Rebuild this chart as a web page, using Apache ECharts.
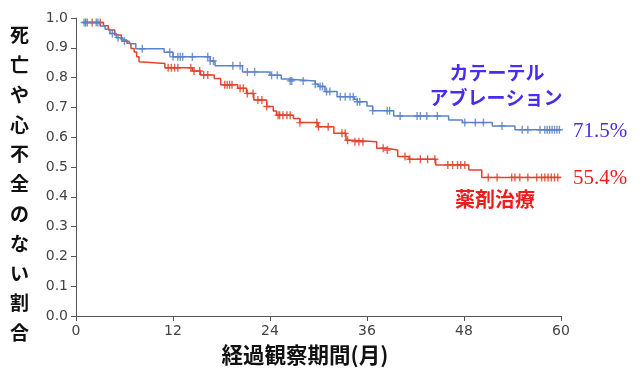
<!DOCTYPE html>
<html>
<head>
<meta charset="utf-8">
<script src="https://cdn.jsdelivr.net/npm/echarts@6/dist/echarts.min.js"></script>
<style>
html,body{margin:0;padding:0;background:#fff;}
#chart{width:640px;height:381px;}
</style>
</head>
<body>
<div id="chart"></div>
<script>
// Kaplan-Meier step data: [month, survival]
var ablationSteps = [[0.9,0.985],[3.0,0.973],[3.6,0.962],[4.2,0.948],[5.0,0.934],[5.8,0.922],[6.6,0.914],[7.4,0.897],[10.9,0.885],[12.0,0.870],[16.6,0.856],[17.2,0.840],[20.6,0.819],[24.0,0.808],[25.4,0.795],[26.1,0.789],[29.6,0.778],[30.0,0.770],[30.8,0.753],[32.3,0.736],[34.4,0.727],[34.8,0.719],[36.0,0.705],[36.7,0.689],[39.3,0.671],[46.1,0.658],[47.8,0.649],[51.5,0.638],[54.3,0.625],[60.0,0.625]];
var drugSteps = [[0.9,0.985],[3.4,0.974],[4.0,0.960],[4.8,0.943],[5.6,0.926],[6.3,0.915],[6.8,0.898],[7.2,0.886],[7.5,0.870],[7.8,0.853],[8.0,0.847],[11.0,0.833],[14.4,0.822],[15.4,0.809],[17.1,0.797],[17.9,0.776],[20.0,0.764],[21.1,0.747],[22.0,0.725],[23.6,0.703],[24.4,0.688],[24.8,0.674],[26.9,0.663],[27.7,0.649],[29.9,0.635],[31.9,0.613],[33.4,0.590],[34.2,0.585],[37.2,0.563],[38.4,0.557],[39.8,0.535],[41.2,0.526],[44.5,0.507],[48.6,0.490],[50.2,0.465],[60.0,0.465]];
// censoring times (months)
var ablationCensor = [1.0,1.4,2.5,2.7,4.5,5.2,6.0,8.2,11.6,12.0,12.6,12.9,13.2,14.4,16.3,16.6,17.0,19.4,20.3,21.2,22.1,24.2,24.9,26.5,26.7,28.1,29.6,30.2,30.5,31.0,31.4,32.7,33.3,33.9,34.3,34.8,35.1,36.7,38.5,38.8,40.1,42.2,42.6,43.4,44.7,48.1,49.4,50.4,52.7,55.2,55.9,57.4,58.0,58.3,58.6,58.9,59.2,59.5,59.8];
var drugCensor = [1.2,2.0,3.0,11.4,11.8,12.2,12.6,14.2,14.6,15.3,15.8,16.3,18.4,18.7,19.0,19.3,20.3,20.7,21.2,21.9,22.5,23.0,23.6,25.0,25.2,25.6,26.1,26.5,27.7,29.8,30.0,31.2,32.9,33.3,33.6,34.5,35.0,35.5,38.0,38.5,40.7,41.3,42.6,43.5,44.4,46.0,46.6,47.2,47.6,48.1,51.0,52.1,53.9,54.3,54.9,55.9,57.0,57.6,58.0,58.4,58.8,59.2,59.6];
var xTicks = [0,12,24,36,48,60];
var yTitle = '死亡や心不全のない割合';
var xTitle = '経過観察期間(月)';
var ablationName = ['カテーテル','アブレーション'];
var drugName = '薬剤治療';
var ablationFinal = '71.5%';
var drugFinal = '55.4%';

function survAt(steps, t){
  var v = steps[0][1];
  for (var i=0;i<steps.length;i++){ if (steps[i][0] <= t) v = steps[i][1]; }
  return v;
}
function censorPts(steps, times){ return times.map(function(t){ return [t, survAt(steps,t)]; }); }

var blue = '#5a83c9', red = '#e2432c';
var labelBlue = '#4a2cf0', labelRed = '#ef1c1c';
var chart = echarts.init(document.getElementById('chart'));
var censorSym = 'path://M-0.6,-3.5L0.6,-3.5L0.6,-0.6L3,-0.6L3,0.6L0.6,0.6L0.6,3.5L-0.6,3.5L-0.6,0.6L-3,0.6L-3,-0.6L-0.6,-0.6Z';
chart.setOption({
  animation:false,
  grid:{left:76,right:79,top:18,bottom:65,containLabel:false},
  xAxis:{type:'value',min:0,max:60,interval:12,
    axisLine:{show:true,lineStyle:{color:'#555',width:1}},
    axisTick:{show:true,length:5,lineStyle:{color:'#555'}},
    axisLabel:{color:'#444',fontSize:14,fontFamily:'DejaVu Sans',margin:8},
    splitLine:{show:false}},
  yAxis:{type:'value',min:0,max:1,interval:0.1,
    axisLine:{show:true,lineStyle:{color:'#555',width:1}},
    axisTick:{show:true,length:5,lineStyle:{color:'#555'}},
    axisLabel:{color:'#444',fontSize:14,fontFamily:'DejaVu Sans',margin:8,formatter:function(v){return v.toFixed(1);}},
    splitLine:{show:false}},
  series:[
    {type:'line',step:'end',data:ablationSteps,showSymbol:false,lineStyle:{color:blue,width:1.5},z:3},
    {type:'line',step:'end',data:drugSteps,showSymbol:false,lineStyle:{color:red,width:1.5},z:2},
    {type:'scatter',data:censorPts(ablationSteps,ablationCensor),symbol:censorSym,symbolSize:[7,8],itemStyle:{color:blue,opacity:0.85},z:4},
    {type:'scatter',data:censorPts(drugSteps,drugCensor),symbol:censorSym,symbolSize:[7,8],itemStyle:{color:red,opacity:0.85},z:3}
  ],
  graphic:[
    {type:'text',left:10,top:20,style:{text:yTitle.split('').join('\n'),fontSize:19,lineHeight:29.8,fontWeight:'bold',fontFamily:'Noto Sans CJK JP',fill:'#111',align:'center'}},
    {type:'text',x:305,y:355,style:{text:xTitle,fontSize:21.5,fontWeight:'bold',fontFamily:'Noto Sans CJK JP',fill:'#111',align:'center',verticalAlign:'middle'}},
    {type:'text',x:497,y:73,style:{text:ablationName[0],fontSize:19,fontFamily:'Noto Sans CJK JP',fontWeight:'bold',fill:labelBlue,align:'center',verticalAlign:'middle'}},
    {type:'text',x:496,y:98,style:{text:ablationName[1],fontSize:19,fontFamily:'Noto Sans CJK JP',fontWeight:'bold',fill:labelBlue,align:'center',verticalAlign:'middle'}},
    {type:'text',x:495,y:199,style:{text:drugName,fontSize:20,fontFamily:'Noto Sans CJK JP',fontWeight:'bold',fill:labelRed,align:'center',verticalAlign:'middle'}},
    {type:'text',x:573,y:131,style:{text:ablationFinal,fontSize:21,fontFamily:'Liberation Serif',fill:labelBlue,align:'left',verticalAlign:'middle'}},
    {type:'text',x:573,y:178.5,style:{text:drugFinal,fontSize:21,fontFamily:'Liberation Serif',fill:labelRed,align:'left',verticalAlign:'middle'}}
  ]
});
</script>
</body>
</html>
